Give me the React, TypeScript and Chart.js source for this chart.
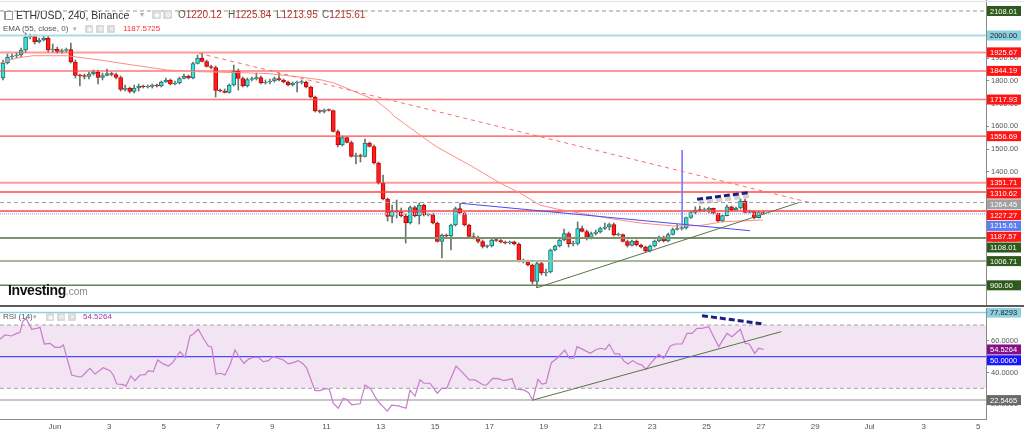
import React, { useEffect, useRef } from "react";
import { Chart, registerables } from "chart.js";

Chart.register(...registerables);

const FONT = '"Liberation Sans", Arial, Helvetica, sans-serif';

// ---------- time axis: day units, Jun k 00:00 = k ----------
const X_MIN = -1.026;
const X_MAX = 35.29;
const CANDLE_FIRST_DAY = -1; // May 30, 00:00
const CANDLE_STEP = 1 / 6; // 4h candles
const dateTickDays = [1, 3, 5, 7, 9, 11, 13, 15, 17, 19, 21, 23, 25, 27, 29, 31, 33, 35];
const dateTickLabels = ["Jun", "3", "5", "7", "9", "11", "13", "15", "17", "19", "21", "23", "25", "27", "29", "Jul", "3", "5"];

// ---------- ETH/USD 4h candles ----------
const opens = [
  1812.8, 1878.8, 1905.2, 1909.6, 1914.0, 1936.0, 1993.3, 1995.5, 1971.2, 1980.1,
  1988.9, 1936.0, 1940.4, 1929.4, 1933.8, 1938.2, 1883.2, 1823.8, 1821.6, 1819.4,
  1830.4, 1839.2, 1815.0, 1823.8, 1832.6, 1828.2, 1815.0, 1762.1, 1768.7, 1753.3,
  1768.7, 1777.5, 1773.1, 1775.3, 1781.9, 1777.5, 1795.2, 1804.0, 1786.3, 1790.7,
  1810.6, 1821.6, 1812.8, 1876.6, 1900.8, 1885.4, 1863.4, 1859.0, 1757.7, 1755.5,
  1748.9, 1781.9, 1843.6, 1810.6, 1777.5, 1806.2, 1808.4, 1815.0, 1790.7, 1795.2,
  1799.6, 1810.6, 1804.0, 1795.2, 1781.9, 1790.7, 1793.0, 1795.2, 1773.1, 1729.1,
  1667.5, 1665.3, 1671.9, 1669.7, 1577.2, 1517.7, 1550.8, 1528.7, 1467.1, 1469.3,
  1467.1, 1526.5, 1511.1, 1438.5, 1350.4, 1280.0, 1202.9, 1227.1, 1222.7, 1205.1,
  1174.3, 1242.6, 1205.1, 1253.6, 1209.5, 1211.8, 1174.3, 1092.9, 1121.5, 1117.1,
  1165.5, 1238.2, 1218.3, 1165.5, 1114.9, 1110.5, 1092.9, 1070.8, 1073.0, 1099.5,
  1097.3, 1090.6, 1086.2, 1092.0, 1081.8, 1004.8, 1007.0, 989.4, 916.7, 996.0,
  954.2, 958.6, 1055.4, 1073.0, 1099.5, 1128.1, 1081.8, 1084.0, 1150.1, 1136.9,
  1110.5, 1128.1, 1134.7, 1150.1, 1156.7, 1167.7, 1121.5, 1123.7, 1092.9, 1075.2,
  1095.1, 1077.4, 1068.6, 1051.0, 1073.0, 1095.1, 1112.7, 1095.1, 1123.7, 1145.7,
  1150.1, 1152.3, 1198.5, 1220.5, 1231.5, 1229.3, 1231.5, 1239.0, 1217.0, 1183.1,
  1206.5, 1246.1, 1231.5, 1240.4, 1271.2, 1221.4, 1224.9, 1197.6, 1220.12,
];
const highs = [
  1892.0, 1918.4, 1918.4, 1922.8, 1944.8, 2010.9, 2006.5, 2002.1, 1988.9, 1997.7,
  1997.7, 1962.4, 1949.2, 1940.4, 1944.8, 1966.8, 1892.0, 1830.4, 1830.4, 1839.2,
  1848.0, 1848.0, 1834.8, 1852.4, 1839.2, 1834.8, 1821.6, 1781.9, 1773.1, 1781.9,
  1786.3, 1781.9, 1781.9, 1786.3, 1786.3, 1799.6, 1812.8, 1808.4, 1799.6, 1817.2,
  1830.4, 1826.0, 1883.2, 1914.0, 1921.5, 1892.0, 1870.0, 1865.6, 1764.3, 1764.3,
  1786.3, 1870.0, 1852.4, 1817.2, 1812.8, 1817.2, 1834.8, 1821.6, 1804.0, 1808.4,
  1817.2, 1834.8, 1808.4, 1799.6, 1795.2, 1799.6, 1804.0, 1799.6, 1777.5, 1733.5,
  1671.9, 1676.3, 1676.3, 1671.9, 1583.8, 1557.4, 1553.0, 1535.4, 1482.5, 1478.1,
  1544.2, 1531.0, 1517.7, 1442.9, 1385.6, 1284.4, 1253.6, 1275.6, 1240.4, 1213.9,
  1249.2, 1249.2, 1262.4, 1258.0, 1218.3, 1218.3, 1178.7, 1125.9, 1125.9, 1169.9,
  1244.7, 1261.1, 1222.7, 1169.9, 1130.3, 1117.1, 1099.5, 1077.4, 1103.9, 1103.9,
  1101.7, 1095.1, 1095.1, 1095.1, 1086.2, 1015.8, 1011.4, 993.8, 1002.6, 1002.6,
  971.8, 1059.8, 1077.4, 1108.3, 1147.9, 1134.7, 1095.1, 1178.7, 1161.1, 1143.5,
  1134.7, 1143.5, 1156.7, 1174.3, 1174.3, 1174.3, 1130.3, 1125.9, 1099.5, 1099.5,
  1099.5, 1081.8, 1073.0, 1077.4, 1099.5, 1117.1, 1117.1, 1130.3, 1152.3, 1167.7,
  1161.1, 1200.7, 1227.1, 1246.1, 1249.2, 1240.4, 1244.7, 1240.4, 1218.3, 1209.5,
  1253.6, 1249.2, 1244.7, 1280.0, 1280.0, 1231.5, 1227.1, 1227.1, 1225.84,
];
const lows = [
  1804.0, 1874.4, 1896.4, 1900.8, 1905.2, 1927.2, 1984.5, 1962.4, 1966.8, 1975.6,
  1927.2, 1927.2, 1922.8, 1922.8, 1927.2, 1878.8, 1812.8, 1777.5, 1808.4, 1808.4,
  1826.0, 1786.3, 1804.0, 1821.6, 1821.6, 1808.4, 1755.5, 1755.5, 1746.7, 1746.7,
  1755.5, 1768.7, 1768.7, 1768.7, 1773.1, 1773.1, 1793.0, 1781.9, 1781.9, 1786.3,
  1808.4, 1808.4, 1808.4, 1874.4, 1883.2, 1861.2, 1852.4, 1729.1, 1751.1, 1746.7,
  1746.7, 1777.5, 1759.9, 1773.1, 1773.1, 1799.6, 1804.0, 1786.3, 1786.3, 1786.3,
  1795.2, 1799.6, 1790.7, 1777.5, 1777.5, 1751.1, 1786.3, 1768.7, 1724.7, 1663.1,
  1658.7, 1658.7, 1667.5, 1575.0, 1508.9, 1513.3, 1526.5, 1464.9, 1434.1, 1442.9,
  1464.9, 1508.9, 1434.1, 1346.0, 1275.6, 1183.1, 1174.3, 1196.3, 1200.7, 1086.2,
  1169.9, 1200.7, 1169.9, 1205.1, 1205.1, 1169.9, 1090.6, 1020.2, 1108.3, 1055.4,
  1161.1, 1213.9, 1161.1, 1108.3, 1103.9, 1086.2, 1064.2, 1064.2, 1068.6, 1092.9,
  1086.2, 1081.8, 1081.8, 1077.4, 1002.6, 998.2, 985.0, 905.7, 889.4, 945.4,
  941.0, 954.2, 1051.0, 1068.6, 1095.1, 1068.6, 1073.0, 1077.4, 1134.7, 1099.5,
  1103.9, 1121.5, 1130.3, 1145.7, 1143.5, 1117.1, 1117.1, 1090.6, 1068.6, 1073.0,
  1073.0, 1064.2, 1046.6, 1046.6, 1068.6, 1090.6, 1090.6, 1090.6, 1121.5, 1143.5,
  1143.5, 1147.9, 1194.1, 1213.9, 1222.7, 1224.9, 1218.3, 1213.9, 1178.7, 1178.7,
  1205.1, 1227.1, 1229.3, 1235.9, 1218.3, 1218.3, 1191.9, 1196.3, 1213.95,
];
const closes = [
  1878.8, 1905.2, 1909.6, 1914.0, 1936.0, 1993.3, 1995.5, 1971.2, 1980.1, 1988.9,
  1936.0, 1940.4, 1929.4, 1933.8, 1938.2, 1883.2, 1823.8, 1821.6, 1819.4, 1830.4,
  1839.2, 1815.0, 1823.8, 1832.6, 1828.2, 1815.0, 1762.1, 1768.7, 1753.3, 1768.7,
  1777.5, 1773.1, 1775.3, 1781.9, 1777.5, 1795.2, 1804.0, 1786.3, 1790.7, 1810.6,
  1821.6, 1812.8, 1876.6, 1900.8, 1885.4, 1863.4, 1859.0, 1757.7, 1755.5, 1748.9,
  1781.9, 1843.6, 1810.6, 1777.5, 1806.2, 1808.4, 1815.0, 1790.7, 1795.2, 1799.6,
  1810.6, 1804.0, 1795.2, 1781.9, 1790.7, 1793.0, 1795.2, 1773.1, 1729.1, 1667.5,
  1665.3, 1671.9, 1669.7, 1577.2, 1517.7, 1550.8, 1528.7, 1467.1, 1469.3, 1467.1,
  1526.5, 1511.1, 1438.5, 1350.4, 1280.0, 1202.9, 1227.1, 1222.7, 1205.1, 1174.3,
  1242.6, 1205.1, 1253.6, 1209.5, 1211.8, 1174.3, 1092.9, 1121.5, 1117.1, 1165.5,
  1238.2, 1218.3, 1165.5, 1114.9, 1110.5, 1092.9, 1070.8, 1073.0, 1099.5, 1097.3,
  1090.6, 1086.2, 1092.0, 1081.8, 1004.8, 1007.0, 989.4, 916.7, 996.0, 954.2,
  958.6, 1055.4, 1073.0, 1099.5, 1128.1, 1081.8, 1084.0, 1150.1, 1136.9, 1110.5,
  1128.1, 1134.7, 1150.1, 1156.7, 1167.7, 1121.5, 1123.7, 1092.9, 1075.2, 1095.1,
  1077.4, 1068.6, 1051.0, 1073.0, 1095.1, 1112.7, 1095.1, 1123.7, 1145.7, 1150.1,
  1152.3, 1198.5, 1220.5, 1231.5, 1229.3, 1231.5, 1239.0, 1217.0, 1183.1, 1206.5,
  1246.1, 1231.5, 1240.4, 1271.2, 1221.4, 1224.9, 1197.6, 1220.12, 1215.61,
];

// ---------- EMA(55) ----------
const emaDays = [-1.026, -0.4, 0.19, 1.44, 2.66, 3.87, 5.13, 6.34, 7.56, 8.81, 10.02, 10.83, 11.31, 12.05, 12.79, 13.27, 13.52, 14.7, 15.07, 16.4, 17.39, 18.13, 18.86, 19.49, 21.33, 22.55, 23.79, 24.76, 25.6, 27.08];
const emaValues = [1878.8, 1900.8, 1910.9, 1910.9, 1892.0, 1870.0, 1848.0, 1840.5, 1837.0, 1832.6, 1817.2, 1804.0, 1789.4, 1752.4, 1715.9, 1671.9, 1642.3, 1539.8, 1509.0, 1420.9, 1350.4, 1306.4, 1253.6, 1236.0, 1196.3, 1174.3, 1161.1, 1163.3, 1180.0, 1187.57];

// ---------- horizontal price levels ----------
const levelPrices = [2108.01, 2000.0, 1925.67, 1844.19, 1717.93, 1556.69, 1351.71, 1310.62, 1264.45, 1227.27, 1215.61, 1108.01, 1006.71, 900.0];
const levelKinds = ["greenDash", "cyan", "redSoft", "redSoft", "redMid", "red", "redSoft", "red", "grayDash", "red", "blueDot", "green", "greenLight", "greenDark"];
const priceTickValues = [900, 1000, 1100, 1200, 1300, 1400, 1500, 1600, 1700, 1800, 1900, 2000, 2100];

// ---------- drawn trend lines (price pane) ----------
const downTrendDays = [6.3, 28.92];
const downTrendPrices = [1921.6, 1261.0];
const supportDays = [18.76, 28.38];
const supportPrices = [889.4, 1263.7];
const blueTrendDays = [15.95, 26.6];
const blueTrendPrices = [1261.0, 1140.4];
const blueVerticalDays = [24.1, 24.1];
const blueVerticalPrices = [1495.8, 1165.5];
const navyDays = [24.65, 26.53];
const navyPrices = [1278.7, 1307.8];
const navyShadowDays = [24.7, 26.58];
const navyShadowPrices = [1264.0, 1293.0];

// ---------- RSI(14) ----------
const rsiDays = [
  -1.026, -0.842, -0.595, -0.411, -0.289, -0.19, -0.068, 0.142, 0.326, 0.448,
  0.606, 0.816, 1.0, 1.184, 1.306, 1.615, 1.858, 1.983, 2.105, 2.289,
  2.473, 2.779, 3.026, 3.147, 3.273, 3.457, 3.615, 3.788, 3.947, 4.131,
  4.315, 4.436, 4.621, 4.783, 4.989, 5.173, 5.335, 5.604, 5.788, 5.972,
  6.094, 6.278, 6.462, 6.646, 6.772, 6.93, 7.103, 7.262, 7.446, 7.63,
  7.814, 7.961, 8.12, 8.304, 8.488, 8.672, 8.856, 9.04, 9.225, 9.409,
  9.593, 9.777, 9.961, 10.145, 10.271, 10.576, 10.76, 10.945, 11.103, 11.25,
  11.435, 11.619, 11.766, 11.928, 12.234, 12.418, 12.639, 12.786, 12.97, 13.092,
  13.239, 13.401, 13.645, 13.928, 14.075, 14.26, 14.444, 14.591, 14.812, 15.081,
  15.243, 15.427, 15.77, 15.98, 16.26, 16.469, 16.775, 16.9, 17.121, 17.328,
  17.538, 17.832, 17.98, 18.263, 18.447, 18.595, 18.79, 18.937, 19.085, 19.28,
  19.49, 19.773, 19.943, 20.105, 20.227, 20.437, 20.716, 20.9, 21.085, 21.269,
  21.416, 21.615, 21.785, 21.947, 22.105, 22.278, 22.473, 22.621, 22.768, 22.963,
  23.236, 23.42, 23.663, 23.847, 24.094, 24.278, 24.462, 24.646, 24.83, 25.077,
  25.261, 25.445, 25.751, 25.935, 26.241, 26.425, 26.572, 26.771, 26.919, 27.103,
];
const rsiValues = [
  60.97, 63.7, 63.05, 64.7, 65.2, 72.1, 74.2, 67.3, 67.9, 68.5,
  58.0, 58.4, 55.9, 55.9, 57.4, 38.4, 37.3, 37.3, 39.5, 42.6,
  39.0, 43.0, 41.1, 38.4, 32.7, 32.5, 31.5, 37.8, 34.8, 38.4,
  38.6, 41.1, 40.5, 47.9, 45.4, 44.1, 46.2, 53.1, 49.6, 63.1,
  64.3, 67.3, 61.6, 56.7, 55.9, 39.0, 39.5, 38.4, 44.9, 54.2,
  49.0, 45.8, 48.3, 49.6, 49.6, 46.8, 47.5, 50.0, 49.0, 47.9,
  45.4, 46.2, 47.5, 45.4, 42.6, 28.5, 28.5, 29.8, 29.4, 20.5,
  17.4, 23.7, 22.7, 19.6, 20.2, 32.1, 29.4, 24.7, 20.2, 18.3,
  15.6, 19.4, 18.9, 17.4, 28.9, 25.1, 35.3, 33.2, 33.2, 26.9,
  30.0, 30.0, 44.1, 40.5, 35.3, 35.3, 32.1, 32.1, 36.3, 36.1,
  34.8, 36.0, 29.4, 29.0, 27.2, 22.5, 35.7, 32.7, 33.2, 46.2,
  49.0, 54.2, 49.0, 49.0, 56.3, 54.6, 52.1, 54.2, 55.3, 54.6,
  57.8, 51.7, 51.7, 47.3, 45.4, 47.5, 45.4, 44.7, 42.0, 46.2,
  51.5, 49.0, 56.7, 58.0, 58.0, 64.7, 64.7, 67.9, 67.9, 68.9,
  62.6, 56.3, 64.7, 62.6, 67.3, 58.4, 58.0, 52.1, 55.3, 54.5264,
];
const rsiTickValues = [20, 40, 60];
const rsiBandUpper = 70;
const rsiBandLower = 30;
const rsiMid = 50;
const rsiHighMark = 77.8293;
const rsiLowMark = 22.5465;
const rsiTrendDays = [18.59, 27.75];
const rsiTrendValues = [22.5, 65.8];
const rsiNavyDays = [24.83, 27.1];
const rsiNavyValues = [75.9, 70.6];

// ---------- styles ----------
const levelStyles: Record<string, { color: string; width: number; dash: number[]; box: string; text: string }> = {
  greenDash: { color: "#8e9d80", width: 1, dash: [4, 3], box: "#2f5a1d", text: "#ffffff" },
  cyan: { color: "#a6dbe8", width: 2, dash: [], box: "#8ccfe0", text: "#1e1e1e" },
  redSoft: { color: "rgba(255,70,70,0.55)", width: 2, dash: [], box: "#ff1414", text: "#ffffff" },
  redMid: { color: "rgba(255,60,60,0.7)", width: 1.6, dash: [], box: "#ff1414", text: "#ffffff" },
  red: { color: "#ff4646", width: 1.4, dash: [], box: "#ff1414", text: "#ffffff" },
  grayDash: { color: "#9c9c9c", width: 1, dash: [4, 3], box: "#a0a0a0", text: "#ffffff" },
  blueDot: { color: "#b4c8f4", width: 2, dash: [1, 1], box: "#5a7ef0", text: "#ffffff" },
  green: { color: "#7b9270", width: 2, dash: [], box: "#2f5a1d", text: "#ffffff" },
  greenLight: { color: "#a9b89c", width: 2, dash: [], box: "#2f5a1d", text: "#ffffff" },
  greenDark: { color: "#66805a", width: 1.5, dash: [], box: "#2f5a1d", text: "#ffffff" },
};

type BoxItem = { value: number; text: string; bg: string; fg: string };

function drawAxisBoxes(chart: any, items: BoxItem[]) {
  const ctx = chart.ctx;
  const yScale = chart.scales.y;
  const right = chart.chartArea.right;
  const list = items
    .map((it) => ({ ...it, py: yScale.getPixelForValue(it.value) }))
    .sort((a, b) => a.py - b.py);
  let prev = -Infinity;
  ctx.save();
  ctx.font = `7.5px ${FONT}`;
  ctx.textBaseline = "middle";
  ctx.textAlign = "left";
  for (const it of list) {
    const cy = Math.max(it.py, prev + 10.8);
    prev = cy;
    ctx.fillStyle = it.bg;
    ctx.fillRect(right + 1, cy - 5, 34, 10);
    ctx.fillStyle = it.fg;
    ctx.fillText(it.text, right + 4, cy + 0.5);
  }
  ctx.restore();
}

function seg(days: number[], vals: number[]) {
  return days.map((d, i) => ({ x: d, y: vals[i] }));
}

function lineDs(data: any[], color: string, width: number, dash: number[], order: number, extra: any = {}) {
  return {
    type: "line",
    data,
    borderColor: color,
    borderWidth: width,
    borderDash: dash,
    pointRadius: 0,
    fill: false,
    tension: 0,
    order,
    ...extra,
  };
}

function mainConfig(): any {
  const candleX = opens.map((_, i) => CANDLE_FIRST_DAY + (i + 0.5) * CANDLE_STEP);
  const up = opens.map((o, i) => closes[i] >= o);
  const levelDatasets = levelPrices.map((p, i) => {
    const st = levelStyles[levelKinds[i]];
    return lineDs([{ x: X_MIN, y: p }, { x: X_MAX, y: p }], st.color, st.width, st.dash, 8);
  });
  const boxes: BoxItem[] = levelPrices.map((p, i) => {
    const st = levelStyles[levelKinds[i]];
    return { value: p, text: p.toFixed(2), bg: st.box, fg: st.text };
  });
  boxes.push({ value: emaValues[emaValues.length - 1], text: emaValues[emaValues.length - 1].toFixed(2), bg: "#ff1414", fg: "#ffffff" });

  return {
    type: "bar",
    data: {
      datasets: [
        {
          type: "bar",
          data: candleX.map((x, i) => ({ x, y: [lows[i], highs[i]] })),
          backgroundColor: "#66766b",
          borderWidth: 0,
          barThickness: 1,
          grouped: false,
          minBarLength: 1,
          order: 12,
        },
        {
          type: "bar",
          data: candleX.map((x, i) => ({ x, y: [opens[i], closes[i]] })),
          backgroundColor: up.map((u) => (u ? "#2ee6de" : "#ff1e1e")),
          borderColor: up.map((u) => (u ? "#2f6e68" : "#c40000")),
          borderWidth: 1,
          borderSkipped: false,
          barThickness: 4,
          grouped: false,
          minBarLength: 1,
          order: 11,
        },
        ...levelDatasets,
        lineDs(seg(emaDays, emaValues), "#ff8c84", 1, [], 7),
        lineDs(seg(downTrendDays, downTrendPrices), "#ff6a6a", 1, [4, 4], 5),
        lineDs(seg(supportDays, supportPrices), "#5e7246", 1, [], 5),
        lineDs(seg(blueTrendDays, blueTrendPrices), "#4b4bf5", 1, [], 5),
        lineDs(seg(blueVerticalDays, blueVerticalPrices), "#7b7bff", 1, [], 5),
        lineDs(seg(navyShadowDays, navyShadowPrices), "rgba(150,150,150,0.45)", 4, [6, 3], 3),
        lineDs(seg(navyDays, navyPrices), "#1b2080", 3, [6, 3], 2),
      ],
    },
    options: {
      responsive: false,
      animation: false,
      devicePixelRatio: 1,
      events: [],
      layout: { padding: 0 },
      plugins: { legend: { display: false }, tooltip: { enabled: false } },
      scales: {
        x: { type: "linear", min: X_MIN, max: X_MAX, offset: false, display: false },
        y: {
          type: "linear",
          position: "right",
          min: 808.9,
          max: 2156.3,
          afterFit: (s: any) => {
            s.width = 38;
            s.paddingTop = 0;
            s.paddingBottom = 0;
          },
          afterBuildTicks: (s: any) => {
            s.ticks = priceTickValues.map((v) => ({ value: v }));
          },
          ticks: {
            callback: (v: any) => Number(v).toFixed(2),
            color: "#555",
            font: { size: 7.5, family: FONT },
            padding: 2,
            autoSkip: false,
          },
          grid: { drawOnChartArea: false, drawTicks: true, tickLength: 3, color: "#8a8a8a" },
          border: { display: true, color: "#8a8a8a" },
        },
      },
    },
    plugins: [{ id: "priceBoxes", afterDraw: (chart: any) => drawAxisBoxes(chart, boxes) }],
  };
}

function rsiConfig(): any {
  const full = (v: number) => [{ x: X_MIN, y: v }, { x: X_MAX, y: v }];
  const boxes: BoxItem[] = [
    { value: rsiHighMark, text: rsiHighMark.toFixed(4), bg: "#8ccfe0", fg: "#1e1e1e" },
    { value: rsiValues[rsiValues.length - 1], text: rsiValues[rsiValues.length - 1].toFixed(4), bg: "#860f86", fg: "#ffffff" },
    { value: rsiMid, text: rsiMid.toFixed(4), bg: "#1717ff", fg: "#ffffff" },
    { value: rsiLowMark, text: rsiLowMark.toFixed(4), bg: "#6a6a6a", fg: "#ffffff" },
  ];
  return {
    type: "line",
    data: {
      datasets: [
        lineDs(full(rsiBandUpper), "#a3a3a3", 1, [4, 3], 20, { fill: { value: rsiBandLower }, backgroundColor: "#f2e4f2" }),
        lineDs(full(rsiBandLower), "#a3a3a3", 1, [4, 3], 19),
        lineDs(full(rsiMid), "#4a4aff", 1.2, [], 18),
        lineDs(full(rsiHighMark), "#86d2e2", 1.5, [], 17),
        lineDs(full(rsiLowMark), "#c6c6c6", 2, [], 16),
        lineDs(seg(rsiDays, rsiValues), "#c77ccd", 1.2, [], 10),
        lineDs(seg(rsiTrendDays, rsiTrendValues), "#5e7246", 1, [], 5),
        lineDs(seg(rsiNavyDays, rsiNavyValues), "#1b2080", 3, [6, 3], 2),
      ],
    },
    options: {
      responsive: false,
      animation: false,
      devicePixelRatio: 1,
      events: [],
      layout: { padding: 0 },
      plugins: { legend: { display: false }, tooltip: { enabled: false } },
      scales: {
        x: {
          type: "linear",
          min: X_MIN,
          max: X_MAX,
          offset: false,
          afterFit: (s: any) => {
            s.height = 15;
            s.paddingLeft = 0;
            s.paddingRight = 0;
          },
          afterBuildTicks: (s: any) => {
            s.ticks = dateTickDays.map((v) => ({ value: v }));
          },
          ticks: {
            callback: (v: any) => dateTickLabels[dateTickDays.indexOf(Number(v))] ?? "",
            color: "#555",
            font: { size: 8, family: FONT },
            padding: 3,
            autoSkip: false,
            maxRotation: 0,
          },
          grid: { display: false, drawTicks: false },
          border: { display: true, color: "#8a8a8a" },
        },
        y: {
          type: "linear",
          position: "right",
          min: 10.6,
          max: 80.74,
          afterFit: (s: any) => {
            s.width = 38;
            s.paddingTop = 0;
            s.paddingBottom = 0;
          },
          afterBuildTicks: (s: any) => {
            s.ticks = rsiTickValues.map((v) => ({ value: v }));
          },
          ticks: {
            callback: (v: any) => Number(v).toFixed(4),
            color: "#555",
            font: { size: 7.5, family: FONT },
            padding: 2,
            autoSkip: false,
          },
          grid: { drawOnChartArea: false, drawTicks: true, tickLength: 3, color: "#8a8a8a" },
          border: { display: true, color: "#8a8a8a" },
        },
      },
    },
    plugins: [{ id: "rsiBoxes", afterDraw: (chart: any) => drawAxisBoxes(chart, boxes) }],
  };
}

function Icon({ left, top, size, glyph }: { left: number; top: number; size: number; glyph: string }) {
  return (
    <div
      style={{
        position: "absolute",
        left,
        top,
        width: size,
        height: size,
        background: "#d9d9d9",
        borderRadius: 1,
        color: "#fff",
        fontSize: size - 2,
        lineHeight: `${size}px`,
        textAlign: "center",
        fontFamily: FONT,
      }}
    >
      {glyph}
    </div>
  );
}

const abs = (left: number, top: number, extra: any = {}) => ({ position: "absolute" as const, left, top, whiteSpace: "nowrap" as const, ...extra });

export default function App() {
  const mainRef = useRef<HTMLCanvasElement>(null);
  const rsiRef = useRef<HTMLCanvasElement>(null);

  useEffect(() => {
    const c1 = new Chart(mainRef.current as HTMLCanvasElement, mainConfig());
    const c2 = new Chart(rsiRef.current as HTMLCanvasElement, rsiConfig());
    return () => {
      c1.destroy();
      c2.destroy();
    };
  }, []);

  const valColor = "#b3302c";
  const lab = "#555";

  return (
    <div style={{ position: "absolute", left: 0, top: 0, width: 1024, height: 434, background: "#fff", overflow: "hidden", fontFamily: FONT }}>
      <canvas ref={mainRef} width={1024} height={306} style={{ position: "absolute", left: 0, top: 0 }} />
      <div style={{ position: "absolute", left: 0, top: 1, width: 1024, height: 1, background: "#e2e2e8" }} />
      <div style={{ position: "absolute", left: 0, top: 305, width: 1024, height: 2, background: "#5a5a5a" }} />
      <canvas ref={rsiRef} width={1024} height={126} style={{ position: "absolute", left: 0, top: 308 }} />

      {/* price legend row 1 */}
      <div style={{ position: "absolute", left: 4, top: 11, width: 6, height: 7, border: "1px solid #999", borderLeftWidth: 2 }} />
      <div style={abs(16, 9, { fontSize: 10.5, lineHeight: "12px", color: "#333" })}>ETH/USD, 240, Binance</div>
      <div style={abs(140, 9, { fontSize: 8, lineHeight: "12px", color: "#aaa" })}>▾</div>
      <Icon left={152} top={10} size={9} glyph="◉" />
      <Icon left={163} top={10} size={9} glyph="⚙" />
      <div style={abs(178, 9, { fontSize: 10, lineHeight: "12px", color: lab })}>
        O<span style={{ color: valColor }}>1220.12</span>
      </div>
      <div style={abs(228, 9, { fontSize: 10, lineHeight: "12px", color: lab })}>
        H<span style={{ color: valColor }}>1225.84</span>
      </div>
      <div style={abs(276, 9, { fontSize: 10, lineHeight: "12px", color: lab })}>
        L<span style={{ color: valColor }}>1213.95</span>
      </div>
      <div style={abs(322, 9, { fontSize: 10, lineHeight: "12px", color: lab })}>
        C<span style={{ color: valColor }}>1215.61</span>
      </div>

      {/* EMA legend row */}
      <div style={abs(3, 24, { fontSize: 8, lineHeight: "10px", color: lab })}>EMA (55, close, 0)</div>
      <div style={abs(73, 24, { fontSize: 7, lineHeight: "10px", color: "#aaa" })}>▾</div>
      <Icon left={85} top={25} size={8} glyph="◉" />
      <Icon left={96} top={25} size={8} glyph="⚙" />
      <Icon left={107} top={25} size={8} glyph="✕" />
      <div style={abs(123, 24, { fontSize: 8, lineHeight: "10px", color: "#ff2d2d" })}>1187.5725</div>

      {/* Investing.com logo */}
      <div style={abs(8, 282, { fontSize: 14, lineHeight: "16px", color: "#111", fontWeight: 700, letterSpacing: "-0.4px" })}>
        Investing<span style={{ fontWeight: 400, color: "#8a8a8a", fontSize: 10, letterSpacing: "0px" }}>.com</span>
      </div>

      {/* RSI legend row */}
      <div style={abs(3, 312, { fontSize: 8, lineHeight: "10px", color: lab })}>RSI (14)</div>
      <div style={abs(33, 312, { fontSize: 7, lineHeight: "10px", color: "#aaa" })}>▾</div>
      <Icon left={46} top={313} size={8} glyph="◉" />
      <Icon left={57} top={313} size={8} glyph="⚙" />
      <Icon left={68} top={313} size={8} glyph="✕" />
      <div style={abs(83, 312, { fontSize: 8, lineHeight: "10px", color: "#a33aa3" })}>54.5264</div>
    </div>
  );
}
